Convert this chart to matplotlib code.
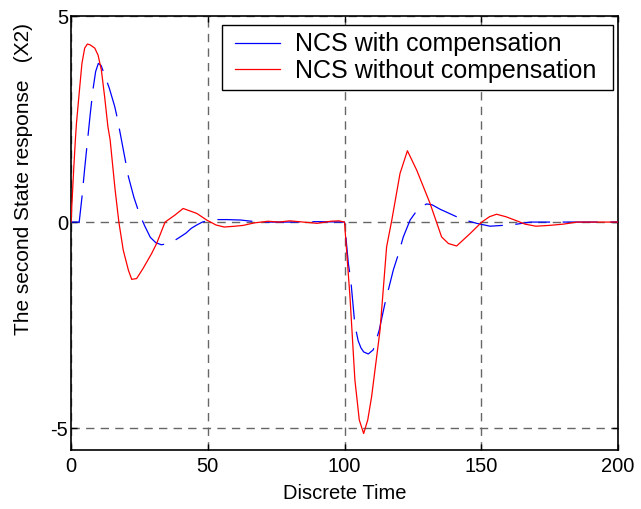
import matplotlib
matplotlib.use("Agg")
import matplotlib.pyplot as plt
from matplotlib.lines import Line2D
from matplotlib.patches import Rectangle

plt.rcParams['font.family'] = ['Liberation Sans', 'DejaVu Sans']
plt.rcParams['axes.unicode_minus'] = False

# NCS with compensation (blue, dashed)
t_comp = [0, 3, 4, 5, 6, 7, 8, 9, 10, 11, 12, 14, 16, 17, 19, 21, 23, 25, 27, 29,
          31, 33, 35, 37, 39, 42, 44, 46, 48, 50, 53, 57, 62, 66, 70, 80, 90, 100,
          101.4, 102.3, 103.8, 105, 106, 107, 108.7, 110.5, 112.7, 114.8, 117.9,
          119.7, 121.5, 124, 127, 130, 132, 135, 138, 141.6, 145, 148.3, 153.2,
          158, 163, 168, 180, 200]
y_comp = [0, 0, 0.6, 1.3, 1.95, 2.6, 3.2, 3.65, 3.85, 3.8, 3.62, 3.25, 2.8, 2.5,
          1.8, 1.1, 0.6, 0.2, -0.1, -0.37, -0.5, -0.55, -0.53, -0.48, -0.4, -0.27,
          -0.15, -0.07, 0.0, 0.03, 0.06, 0.06, 0.05, 0.02, 0.0, 0.0, 0.01, 0.0,
          -1.0, -1.41, -2.5, -2.88, -3.05, -3.15, -3.2, -3.1, -2.62, -1.97, -1.15,
          -0.78, -0.36, 0.05, 0.33, 0.44, 0.42, 0.31, 0.22, 0.11, 0.03, -0.03,
          -0.1, -0.08, -0.05, 0.0, 0.0, 0.0]

# NCS without compensation (red, solid)
t_nocomp = [0, 1, 1.6, 2, 3.2, 4, 5, 6, 7, 8.7, 9.9, 11.1, 12.3, 13.5, 14.3, 16.1,
            17.5, 19.1, 21, 22.2, 24, 26.4, 29.5, 31.3, 34.4, 38, 41, 46, 49.6, 53,
            56, 60, 63, 67, 72, 76, 80, 85, 90, 95, 98, 100,
            102, 103.8, 105.4, 107, 108.5, 109.9, 113, 115.4, 117.3, 120.3, 123,
            126.4, 131.3, 135.5, 138, 141, 145.9, 150.2, 153, 155.6, 159, 163, 166,
            170, 175, 180, 185, 200]
y_nocomp = [0, 1.3, 2.0, 2.4, 3.28, 3.85, 4.22, 4.32, 4.3, 4.22, 4.05, 3.69, 3.04,
            2.31, 2.0, 0.8, 0.0, -0.68, -1.17, -1.39, -1.37, -1.12, -0.76, -0.52,
            0.0, 0.17, 0.33, 0.21, 0.05, -0.07, -0.12, -0.1, -0.08, -0.02, 0.02,
            0.0, 0.03, 0.0, -0.03, 0.02, 0.03, 0.0,
            -1.81, -3.83, -4.8, -5.13, -4.8, -4.24, -2.62, -0.6, 0.05, 1.18, 1.73,
            1.26, 0.45, -0.36, -0.52, -0.58, -0.28, 0.0, 0.13, 0.19, 0.13, 0.03,
            -0.05, -0.1, -0.08, -0.05, 0.0, 0.0]

xticks = [0, 50, 100, 150, 200]
yticks = [-5, 0, 5]
legend_labels = ['NCS with compensation', 'NCS without compensation']

fig = plt.figure(figsize=(6.41, 5.09), dpi=100)
ax = fig.add_axes([71/641, 1 - 450/509, 547/641, 434/509])

ax.plot(t_comp, y_comp, color='blue', lw=0.9, dashes=(28, 10), zorder=3)
ax.plot(t_nocomp, y_nocomp, color='red', lw=0.9, zorder=4)

ax.set_xlim(0, 200)
ax.set_ylim(-5.53, 5)
ax.set_xticks(xticks)
ax.set_yticks(yticks)
ax.grid(True, color='0.4', lw=1.0, linestyle=(0, (6, 4.5)))
ax.tick_params(direction='in', length=4.5, width=1, top=True, right=True,
               labelsize=14.5, pad=5)
ax.tick_params(axis='y', pad=2)
for s in ax.spines.values():
    s.set_linewidth(1.2)

ax.set_xlabel('Discrete Time', fontsize=14.5, labelpad=6)
fig.text(24/641, 1 - 179/509, 'The second State response   (X2)', rotation=90,
         ha='center', va='center', fontsize=15)

# legend box (white background with black edge)
box_x0, box_x1 = (222-71)/547, (613-71)/547
box_y0, box_y1 = (450-90)/434, (450-25)/434
ax.add_patch(Rectangle((box_x0, box_y0), box_x1 - box_x0, box_y1 - box_y0,
                       transform=ax.transAxes, facecolor='white',
                       edgecolor='black', lw=1.0, zorder=5))

handles = [Line2D([], [], color='blue', lw=0.9),
           Line2D([], [], color='red', lw=0.9)]
leg = ax.legend(handles, legend_labels, loc='upper left',
                bbox_to_anchor=((227.5-71)/547, (450-25)/434), borderaxespad=0,
                fontsize=18, frameon=False,
                handlelength=1.8, handletextpad=0.6, borderpad=0.3,
                labelspacing=0.1)
leg.set_zorder(6)

fig.savefig('out.png', dpi=100)
